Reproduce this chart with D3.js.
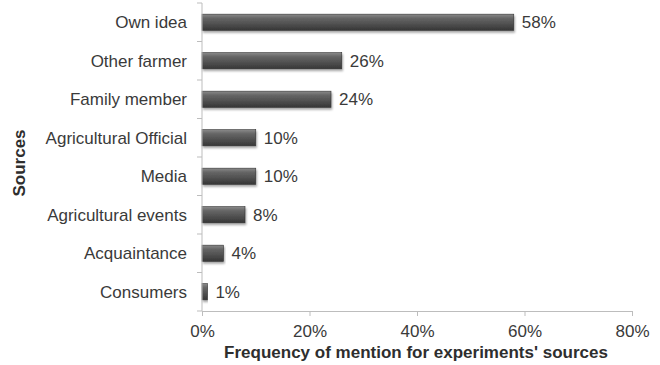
<!DOCTYPE html>
<html>
<head>
<meta charset="utf-8">
<script src="https://cdn.jsdelivr.net/npm/d3@7"></script>
<style>
  html, body { margin: 0; padding: 0; background: #fff; }
  svg { display: block; font-family: "Liberation Sans", Arial, sans-serif; }
</style>
</head>
<body>
<svg id="chart" width="660" height="365"></svg>
<script>
// Sources of experiment ideas and how often each was mentioned (%)
const categories = ["Own idea", "Other farmer", "Family member", "Agricultural Official",
                    "Media", "Agricultural events", "Acquaintance", "Consumers"];
const values = [58, 26, 24, 10, 10, 8, 4, 1];
const xTicks = [0, 20, 40, 60, 80];

const svg = d3.select("#chart");
const margin = { top: 3, right: 28, bottom: 54, left: 202 };
const W = 660, H = 365;
const innerW = W - margin.left - margin.right;
const innerH = H - margin.top - margin.bottom;
const FS = 17;

const defs = svg.append("defs");
const grad = defs.append("linearGradient")
  .attr("id", "barGrad").attr("x1", 0).attr("y1", 0).attr("x2", 0).attr("y2", 1);
grad.append("stop").attr("offset", "0%").attr("stop-color", "#8a8a8a");
grad.append("stop").attr("offset", "25%").attr("stop-color", "#666");
grad.append("stop").attr("offset", "70%").attr("stop-color", "#4a4a4a");
grad.append("stop").attr("offset", "100%").attr("stop-color", "#363636");

const shadow = defs.append("filter").attr("id", "barShadow")
  .attr("x", "-5%").attr("y", "-20%").attr("width", "115%").attr("height", "160%");
shadow.append("feDropShadow").attr("dx", 1).attr("dy", 2).attr("stdDeviation", 1.2)
  .attr("flood-color", "#000").attr("flood-opacity", 0.35);

const g = svg.append("g").attr("transform", `translate(${margin.left},${margin.top})`);

const x = d3.scaleLinear().domain([0, 80]).range([0, innerW]);
const y = d3.scaleBand().domain(categories).range([0, innerH]).paddingInner(0.58).paddingOuter(0.29);

// Bars
g.selectAll("rect.bar").data(categories).join("rect")
  .attr("class", "bar")
  .attr("x", 0)
  .attr("y", d => y(d))
  .attr("width", (d, i) => x(values[i]))
  .attr("height", y.bandwidth())
  .attr("fill", "url(#barGrad)")
  .attr("stroke", "#333")
  .attr("stroke-width", 0.6)
  .attr("filter", "url(#barShadow)");

// Value labels
g.selectAll("text.val").data(categories).join("text")
  .attr("class", "val")
  .attr("x", (d, i) => x(values[i]) + 8)
  .attr("y", d => y(d) + y.bandwidth() / 2)
  .attr("dy", "0.35em")
  .attr("font-size", FS)
  .attr("fill", "#3a3a3a")
  .text((d, i) => values[i] + "%");

// Y axis: line plus ticks at band boundaries
const yAxisG = g.append("g").attr("class", "y-axis");
yAxisG.append("line").attr("x1", 0).attr("x2", 0).attr("y1", 0).attr("y2", innerH)
  .attr("stroke", "#bdbdbd");
const bounds = d3.range(categories.length + 1).map(i => i * innerH / categories.length);
yAxisG.selectAll("line.tick").data(bounds).join("line")
  .attr("class", "tick").attr("x1", -5).attr("x2", 0)
  .attr("y1", d => d).attr("y2", d => d).attr("stroke", "#bdbdbd");
yAxisG.selectAll("text").data(categories).join("text")
  .attr("x", -15)
  .attr("y", d => y(d) + y.bandwidth() / 2)
  .attr("dy", "0.35em")
  .attr("text-anchor", "end")
  .attr("font-size", FS)
  .attr("fill", "#3a3a3a")
  .text(d => d);

// X axis
const xAxis = d3.axisBottom(x).tickValues(xTicks).tickFormat(d => d + "%").tickSizeOuter(0).tickSize(5).tickPadding(9);
const xAxisG = g.append("g").attr("transform", `translate(0,${innerH})`).call(xAxis);
xAxisG.select(".domain").attr("stroke", "#bdbdbd");
xAxisG.selectAll(".tick line").attr("stroke", "#bdbdbd");
xAxisG.selectAll(".tick text").attr("font-size", FS).attr("fill", "#3a3a3a")
  .attr("font-family", "'Liberation Sans', Arial, sans-serif");

// Axis titles
svg.append("text")
  .attr("x", margin.left + innerW / 2 - 1)
  .attr("y", 358)
  .attr("text-anchor", "middle")
  .attr("font-size", FS)
  .attr("font-weight", "bold")
  .attr("fill", "#2e2e2e")
  .text("Frequency of mention for experiments' sources");

svg.append("text")
  .attr("transform", `translate(25,163) rotate(-90)`)
  .attr("text-anchor", "middle")
  .attr("font-size", FS)
  .attr("font-weight", "bold")
  .attr("fill", "#2e2e2e")
  .text("Sources");
</script>
</body>
</html>
